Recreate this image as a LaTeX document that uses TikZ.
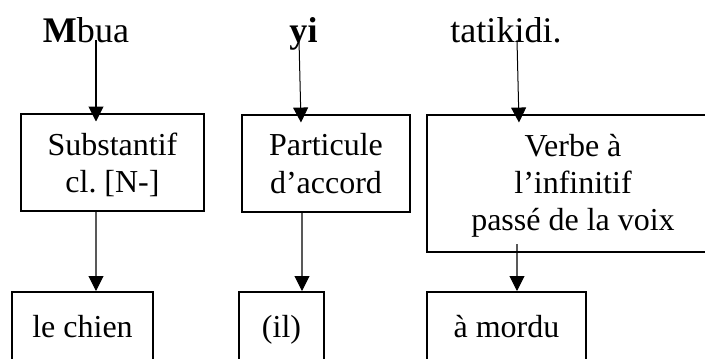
\documentclass[tikz,border=0pt]{standalone}
\usepackage{fontspec}
\setmainfont{Liberation Serif}
\usepackage{tikz}
\usetikzlibrary{arrows.meta, positioning, calc}

\begin{document}
\begin{tikzpicture}[
  box/.style={draw, line width=1.14pt, align=center, inner sep=0pt, text depth=0pt, font=\fontsize{18.2}{21.3}\selectfont},
  word/.style={inner sep=0pt, anchor=base, font=\fontsize{20.5}{24}\selectfont},
  link/.style={line width=0.57pt, -{Triangle[length=8.5pt, width=8.5pt]}}
]
\useasboundingbox (0,0) rectangle (14.1,-7.18);

% Sentence
\node[word] (mbua) at (1.72,-0.84) {\textbf{M}bua};
\node[word] (yi) at (6.07,-0.84) {\textbf{yi}};
\node[word] (tatikidi) at (10.12,-0.84) {tatikidi.};

% Grammatical categories
\node[box, minimum width=3.66cm, minimum height=1.94cm] (subst) at (2.25,-3.25) {Substantif\\cl.\ [N-]};
\node[box, minimum width=3.36cm, minimum height=1.94cm] (partic) at (6.52,-3.27) {Particule\\d'accord};
\node[box, minimum width=5.84cm, minimum height=2.74cm, text depth=0.12em] (verbe) at (11.46,-3.67) {Verbe à\\l'infinitif\\passé de la voix};

% Translations
\node[box, minimum width=2.82cm, minimum height=1.36cm] (chien) at (1.65,-6.52) {le chien};
\node[box, minimum width=1.70cm, minimum height=1.36cm] (il) at (5.63,-6.52) {(il)};
\node[box, minimum width=3.18cm, minimum height=1.36cm] (mordu) at (10.13,-6.52) {à mordu};

% Arrows
\draw[link] ([xshift=0.2cm, yshift=0.04cm]mbua.base) -- ([xshift=-0.33cm, yshift=-0.17cm]subst.north);
\draw[link] ([xshift=-0.09cm, yshift=0.04cm]yi.base) -- ([xshift=-0.5cm, yshift=-0.17cm]partic.north);
\draw[link] ([xshift=0.22cm, yshift=0.04cm]tatikidi.base) -- ([xshift=-1.08cm, yshift=-0.17cm]verbe.north);
\draw[link] ([xshift=-0.33cm]subst.south) -- ([xshift=0.27cm]chien.north);
\draw[link] ([xshift=-0.48cm]partic.south) -- ([xshift=0.41cm]il.north);
\draw[link] ([xshift=-1.12cm, yshift=0.18cm]verbe.south) -- ([xshift=0.21cm]mordu.north);

\end{tikzpicture}
\end{document}
